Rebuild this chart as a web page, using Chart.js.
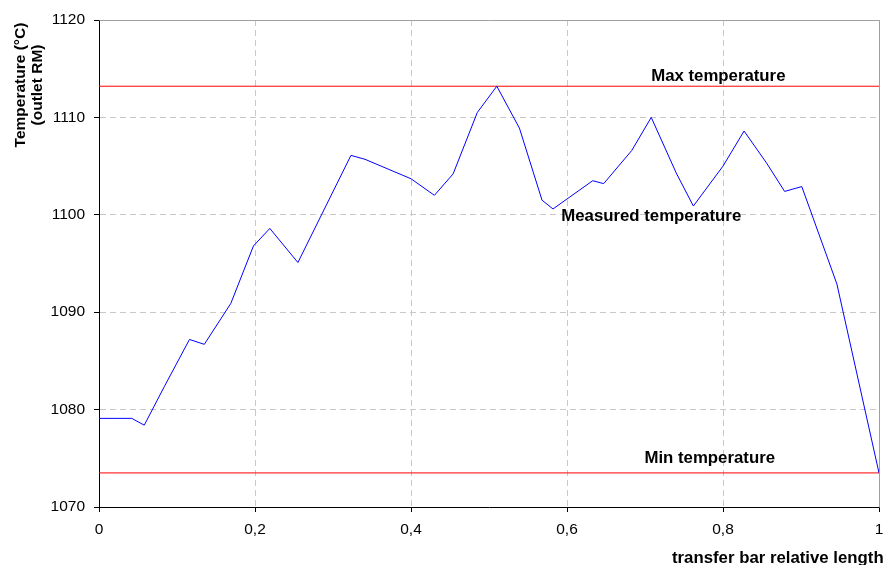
<!DOCTYPE html>
<html>
<head>
<meta charset="utf-8">
<script src="https://cdn.jsdelivr.net/npm/chart.js@4.4.0/dist/chart.umd.min.js"></script>
<style>
  body { margin: 0; background: #fff; }
  #wrap { width: 885px; height: 565px; }
</style>
</head>
<body>
<div id="wrap"><canvas id="temp-chart" width="885" height="565"></canvas></div>
<script>
// relative position along the transfer bar
const posX = [0, 0.042, 0.058, 0.084, 0.116, 0.135, 0.169, 0.198, 0.219, 0.255,
    0.323, 0.341, 0.400, 0.430, 0.454, 0.485, 0.510, 0.539, 0.568, 0.582,
    0.633, 0.647, 0.683, 0.708, 0.740, 0.762, 0.800, 0.827, 0.856, 0.879,
    0.901, 0.946, 1.0];
// measured temperature (°C)
const measuredTemp = [1079.1, 1079.1, 1078.4, 1082.4, 1087.2, 1086.7, 1090.9, 1096.8, 1098.6, 1095.1,
    1106.1, 1105.7, 1103.7, 1102.0, 1104.2, 1110.5, 1113.2, 1108.9, 1101.5, 1100.6,
    1103.5, 1103.2, 1106.6, 1110.0, 1104.3, 1100.9, 1105.0, 1108.6, 1105.3, 1102.4,
    1102.9, 1092.9, 1073.5];
const limitX = [0, 1];
const maxTemp = [1113.2, 1113.2];
const minTemp = [1073.5, 1073.5];

const FONT = '"Liberation Sans", Arial, sans-serif';

function toPoints(xs, ys) {
    return xs.map((x, i) => ({ x: x, y: ys[i] }));
}

// plot frame (gray top/right) and the text labels
const labelsPlugin = {
    id: "labelsPlugin",
    beforeDatasetsDraw(chart) {
        const { ctx, chartArea: a } = chart;
        ctx.save();
        ctx.strokeStyle = "#a0a0a0";
        ctx.lineWidth = 1;
        ctx.beginPath();
        ctx.moveTo(Math.round(a.left) + 0.5, Math.round(a.top) + 0.5);
        ctx.lineTo(Math.round(a.right) + 0.5, Math.round(a.top) + 0.5);
        ctx.lineTo(Math.round(a.right) + 0.5, Math.round(a.bottom) + 0.5);
        ctx.stroke();
        ctx.restore();
    },
    afterDraw(chart) {
        const { ctx } = chart;
        const xs = chart.scales.x;
        const ys = chart.scales.y;
        ctx.save();
        ctx.fillStyle = "#000";
        ctx.textAlign = "center";
        ctx.textBaseline = "middle";
        ctx.font = "bold 16.8px " + FONT;
        ctx.fillText("Max temperature", xs.getPixelForValue(0.794), ys.getPixelForValue(maxTemp[0]) - 10);
        ctx.fillText("Min temperature", xs.getPixelForValue(0.783), ys.getPixelForValue(minTemp[0]) - 15);
        ctx.fillText("Measured temperature", xs.getPixelForValue(0.708), ys.getPixelForValue(1099.8));

        ctx.textAlign = "left";
        ctx.fillText("transfer bar relative length", 672, 558);

        ctx.font = "bold 15.5px " + FONT;
        ctx.textAlign = "center";
        ctx.translate(0, 85);
        ctx.rotate(-Math.PI / 2);
        ctx.fillText("Temperature (°C)", 0, 21);
        ctx.fillText("(outlet RM)", 0, 38);
        ctx.restore();
    },
};

const chartCanvas = document.getElementById("temp-chart");

const tempChart = new Chart(chartCanvas, {
    type: "line",
    data: {
        datasets: [
            {
                label: "Measured temperature",
                data: toPoints(posX, measuredTemp),
                borderColor: "#0000ff",
                borderWidth: 1,
                pointRadius: 0,
                tension: 0,
            },
            {
                label: "Max temperature",
                data: toPoints(limitX, maxTemp),
                borderColor: "#ff0000",
                borderWidth: 1,
                pointRadius: 0,
            },
            {
                label: "Min temperature",
                data: toPoints(limitX, minTemp),
                borderColor: "#ff0000",
                borderWidth: 1,
                pointRadius: 0,
            },
        ],
    },
    options: {
        responsive: false,
        animation: false,
        layout: {
            padding: { top: 20, right: 6, left: 0, bottom: 0 },
        },
        scales: {
            x: {
                type: "linear",
                min: 0,
                max: 1,
                afterFit(scale) {
                    scale.height = 58;
                    scale.paddingLeft = 0;
                    scale.paddingRight = 0;
                },
                ticks: {
                    stepSize: 0.2,
                    padding: 8,
                    color: "#000",
                    font: { family: FONT, size: 15.5 },
                    maxRotation: 0,
                    callback: (v) => String(Math.round(v * 10) / 10).replace(".", ","),
                },
                grid: {
                    color: "#c8c8c8",
                    tickColor: "#000",
                    tickLength: 5,
                    tickBorderDash: [],
                },
                border: { color: "#000", width: 1, dash: [6, 4] },
            },
            y: {
                min: 1070,
                max: 1120,
                afterFit(scale) {
                    scale.width = 99;
                    scale.paddingTop = 0;
                    scale.paddingBottom = 0;
                },
                ticks: {
                    stepSize: 10,
                    padding: 9,
                    color: "#000",
                    font: { family: FONT, size: 15.5 },
                    callback: (v) => String(v),
                },
                grid: {
                    color: "#c8c8c8",
                    tickColor: "#000",
                    tickLength: 5,
                    tickBorderDash: [],
                },
                border: { color: "#000", width: 1, dash: [6, 4] },
            },
        },
        plugins: {
            legend: { display: false },
            tooltip: { enabled: false },
        },
    },
    plugins: [labelsPlugin],
});
</script>
</body>
</html>
